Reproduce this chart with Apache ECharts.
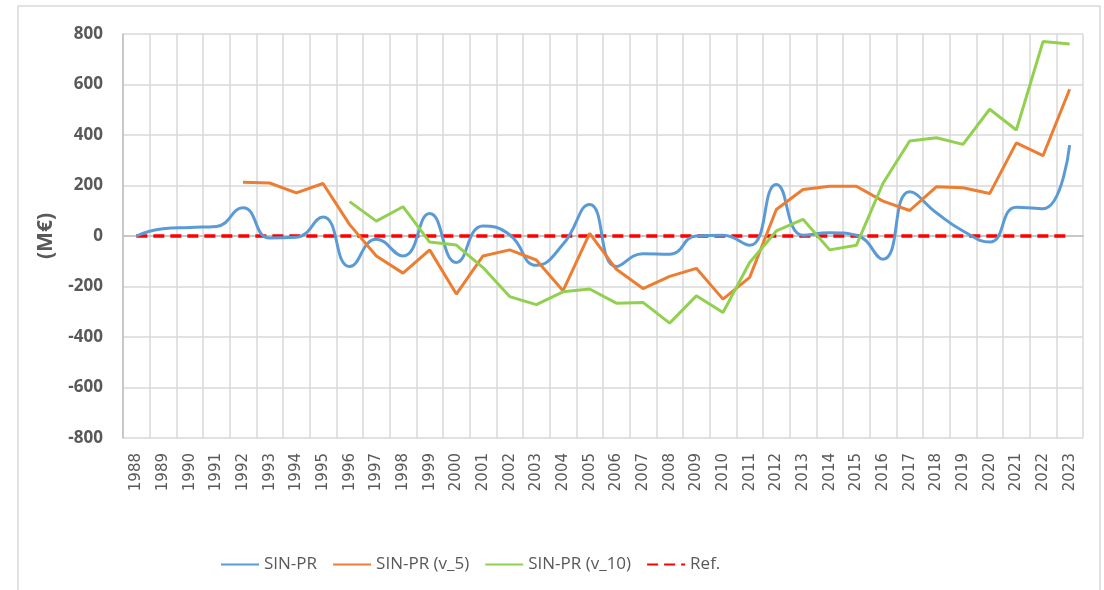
<!DOCTYPE html>
<html>
<head>
<meta charset="utf-8">
<style>
  html, body { margin: 0; padding: 0; background: #fff; }
  #chart { width: 1104px; height: 590px; }
</style>
<script src="https://cdn.jsdelivr.net/npm/echarts@6/dist/echarts.min.js"></script>
</head>
<body>
<div id="chart"></div>
<script>
var years = ['1988', '1989', '1990', '1991', '1992', '1993', '1994', '1995', '1996', '1997',
  '1998', '1999', '2000', '2001', '2002', '2003', '2004', '2005', '2006', '2007', '2008',
  '2009', '2010', '2011', '2012', '2013', '2014', '2015', '2016', '2017', '2018', '2019',
  '2020', '2021', '2022', '2023'];

var sinPr = [0, 29, 34, 38, 112, -8, -5, 75, -121, -13, -79, 89, -105, 40, 5, -116, -33,
  125, -121, -70, -72, 0, 3, -37, 204, 3, 13, 3, -92, 175, 92, 20, -24, 114, 108, 360];

var sinPrV5 = [null, null, null, null, 213, 210, 171, 208, 45, -79, -147, -55, -230, -79,
  -55, -95, -217, 10, -132, -208, -160, -128, -250, -164, 105, 184, 197, 197, 138, 101,
  195, 191, 168, 369, 318, 581];

var sinPrV10 = [null, null, null, null, null, null, null, null, 136, 59, 116, -24, -36,
  -125, -240, -272, -221, -210, -266, -263, -345, -237, -303, -105, 20, 66, -55, -37, 209,
  376, 389, 363, 502, 420, 770, 760];

var ref = years.map(function () { return 0; });

var yTicks = { min: -800, max: 800, interval: 200 };

(function () {
  var ink = '#595959';
  var grid = '#d9d9d9';
  var font = '"Open Sans", "Liberation Sans", sans-serif';

  var chart = echarts.init(document.getElementById('chart'), null, { renderer: 'canvas' });
  chart.setOption({
    animation: false,
    backgroundColor: '#fff',
    graphic: [{
      type: 'rect',
      shape: { x: 18, y: 6, width: 1082, height: 600 },
      style: { fill: 'none', stroke: '#d9d9d9', lineWidth: 1.5 },
      silent: true
    }],
    grid: { left: 123, right: 21, top: 34, bottom: 152 },
    legend: {
      left: 215,
      top: 551,
      itemWidth: 38,
      itemHeight: 14,
      itemGap: 15,
      itemStyle: { opacity: 0 },
      textStyle: { color: ink, fontSize: 17, fontFamily: font },
      data: ['SIN-PR', 'SIN-PR (v_5)', 'SIN-PR (v_10)', 'Ref.']
    },
    xAxis: {
      type: 'category',
      data: years,
      boundaryGap: true,
      axisLine: { lineStyle: { color: '#bfbfbf', width: 1.5 } },
      axisTick: { show: false },
      splitLine: { show: true, interval: 0, lineStyle: { color: grid, width: 1.5 } },
      axisLabel: {
        rotate: 90, interval: 0, margin: 15, color: ink, fontSize: 15,
        fontFamily: '"DejaVu Sans", sans-serif'
      }
    },
    yAxis: {
      type: 'value',
      min: yTicks.min,
      max: yTicks.max,
      interval: yTicks.interval,
      name: '(M€)',
      nameLocation: 'middle',
      nameGap: 66,
      nameRotate: 90,
      nameTextStyle: { color: ink, fontSize: 21, fontWeight: 'bold', fontFamily: font },
      axisLine: { show: true, lineStyle: { color: '#bfbfbf', width: 1.5 } },
      axisTick: { show: false },
      splitLine: { lineStyle: { color: grid, width: 1.5 } },
      axisLabel: { margin: 20, color: ink, fontSize: 17, fontWeight: 'bold', fontFamily: font }
    },
    series: [
      {
        name: 'SIN-PR', type: 'line', data: sinPr, smooth: 0.5, symbol: 'none',
        itemStyle: { color: '#5b9bd5' }, lineStyle: { color: '#5b9bd5', width: 3 }
      },
      {
        name: 'SIN-PR (v_5)', type: 'line', data: sinPrV5, symbol: 'none',
        itemStyle: { color: '#ed7d31' }, lineStyle: { color: '#ed7d31', width: 3 }
      },
      {
        name: 'SIN-PR (v_10)', type: 'line', data: sinPrV10, symbol: 'none',
        itemStyle: { color: '#92d050' }, lineStyle: { color: '#92d050', width: 3 }
      },
      {
        name: 'Ref.', type: 'line', data: ref, symbol: 'none', z: 1,
        itemStyle: { color: '#ff0000' }, lineStyle: { color: '#ff0000', width: 3.5, type: [11, 6] }
      }
    ]
  });
})();
</script>
</body>
</html>
